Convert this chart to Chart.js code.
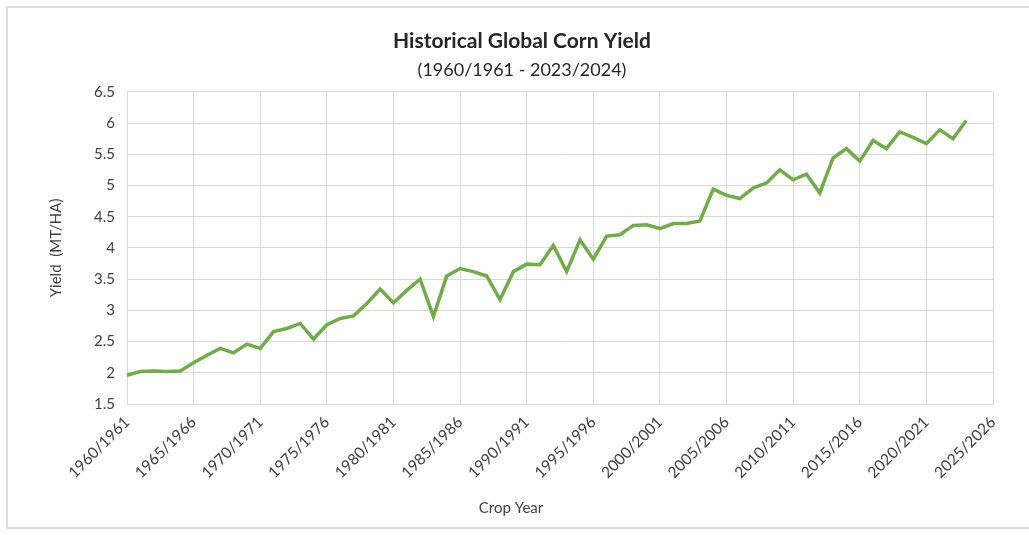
<!DOCTYPE html>
<html>
<head>
<meta charset="utf-8">
<script src="https://cdn.jsdelivr.net/npm/chart.js@4/dist/chart.umd.min.js"></script>
<style>
  html, body { margin: 0; padding: 0; background: #fff; }
  #wrap { position: relative; width: 1029px; height: 535px; overflow: hidden; }
  #frame { position: absolute; left: 6px; top: 6px; width: 1100px; height: 519px;
           border: 2px solid #dcdcdc; pointer-events: none; }
  canvas { position: absolute; left: 0; top: 0; }
</style>
</head>
<body>
<div id="wrap">
  <canvas id="corn_canvas" width="1029" height="535"></canvas>
  <div id="frame"></div>
</div>
<script>
// crop years 1960/1961 .. 2025/2026 (axis runs two years past the data)
const firstYear = 1960;
const lastYear = 2025;
const cropYears = [];
for (let y = firstYear; y <= lastYear; y++) cropYears.push(y + '/' + (y + 1));

// world corn yield, MT/HA, 1960/1961 .. 2023/2024
const yieldValues = [
  1.96, 2.02, 2.03, 2.02, 2.03, 2.16, 2.28, 2.39, 2.32, 2.46,
  2.39, 2.66, 2.71, 2.79, 2.54, 2.77, 2.87, 2.91, 3.11, 3.34,
  3.12, 3.32, 3.50, 2.90, 3.55, 3.67, 3.62, 3.55, 3.17, 3.62,
  3.74, 3.73, 4.04, 3.62, 4.13, 3.82, 4.19, 4.21, 4.36, 4.37,
  4.31, 4.39, 4.39, 4.43, 4.94, 4.84, 4.79, 4.96, 5.04, 5.25,
  5.09, 5.18, 4.88, 5.44, 5.59, 5.39, 5.72, 5.59, 5.86, 5.77,
  5.67, 5.89, 5.75, 6.04
];

const yMin = 1.5;
const yMax = 6.5;
const yStep = 0.5;
const labelEvery = 5;

const fontFamily = "Lato, 'Open Sans', sans-serif";
const gridColor = '#d9d9d9';

// x axis title sits a little left of the plot centre in the original
const cropYearTitle = {
  id: 'cropYearTitle',
  afterDraw(chart) {
    const ctx = chart.ctx;
    ctx.save();
    ctx.font = '15px ' + fontFamily;
    ctx.fillStyle = '#404040';
    ctx.textAlign = 'center';
    ctx.textBaseline = 'middle';
    ctx.fillText('Crop Year', 511, 508);
    ctx.restore();
  }
};

const ctx = document.getElementById('corn_canvas');
const cornChart = new Chart(ctx, {
  type: 'line',
  data: {
    labels: cropYears,
    datasets: [{
      data: yieldValues,
      borderColor: '#70ad47',
      borderWidth: 3.5,
      pointRadius: 0,
      tension: 0,
      fill: false
    }]
  },
  options: {
    responsive: false,
    animation: false,
    layout: { padding: { left: 51, right: 36, top: 0, bottom: 0 } },
    plugins: {
      legend: { display: false },
      tooltip: { enabled: false },
      title: {
        display: true,
        text: 'Historical Global Corn Yield',
        color: '#262626',
        font: { family: fontFamily, size: 21, weight: 'bold' },
        padding: { top: 29, bottom: 5 }
      },
      subtitle: {
        display: true,
        text: '(1960/1961 - 2023/2024)',
        color: '#262626',
        font: { family: fontFamily, size: 18 },
        padding: { top: 0, bottom: 11 }
      }
    },
    scales: {
      x: {
        offset: false,
        grid: {
          color: (c) => (c.index % labelEvery === 0 ? gridColor : 'rgba(0,0,0,0)'),
          drawTicks: false,
          lineWidth: 1
        },
        border: { color: gridColor, width: 1 },
        ticks: {
          autoSkip: false,
          maxRotation: 45,
          minRotation: 45,
          padding: 9,
          color: '#404040',
          font: { family: fontFamily, size: 15.5 },
          callback: function (value, index) {
            return index % labelEvery === 0 ? this.getLabelForValue(value) : '';
          }
        },
        afterFit: (scale) => { scale.height = 131; }
      },
      y: {
        min: yMin,
        max: yMax,
        grid: { color: gridColor, drawTicks: false, lineWidth: 1 },
        border: { color: gridColor, width: 1 },
        ticks: {
          stepSize: yStep,
          padding: 12,
          color: '#404040',
          font: { family: fontFamily, size: 15 },
          callback: (v) => String(Math.round(v * 10) / 10)
        },
        title: {
          display: true,
          text: 'Yield  (MT/HA)',
          color: '#404040',
          font: { family: fontFamily, size: 15 },
          padding: { top: -4, bottom: 0 }
        },
        afterFit: (scale) => { scale.width = 76; }
      }
    }
  },
  plugins: [cropYearTitle]
});
</script>
</body>
</html>
